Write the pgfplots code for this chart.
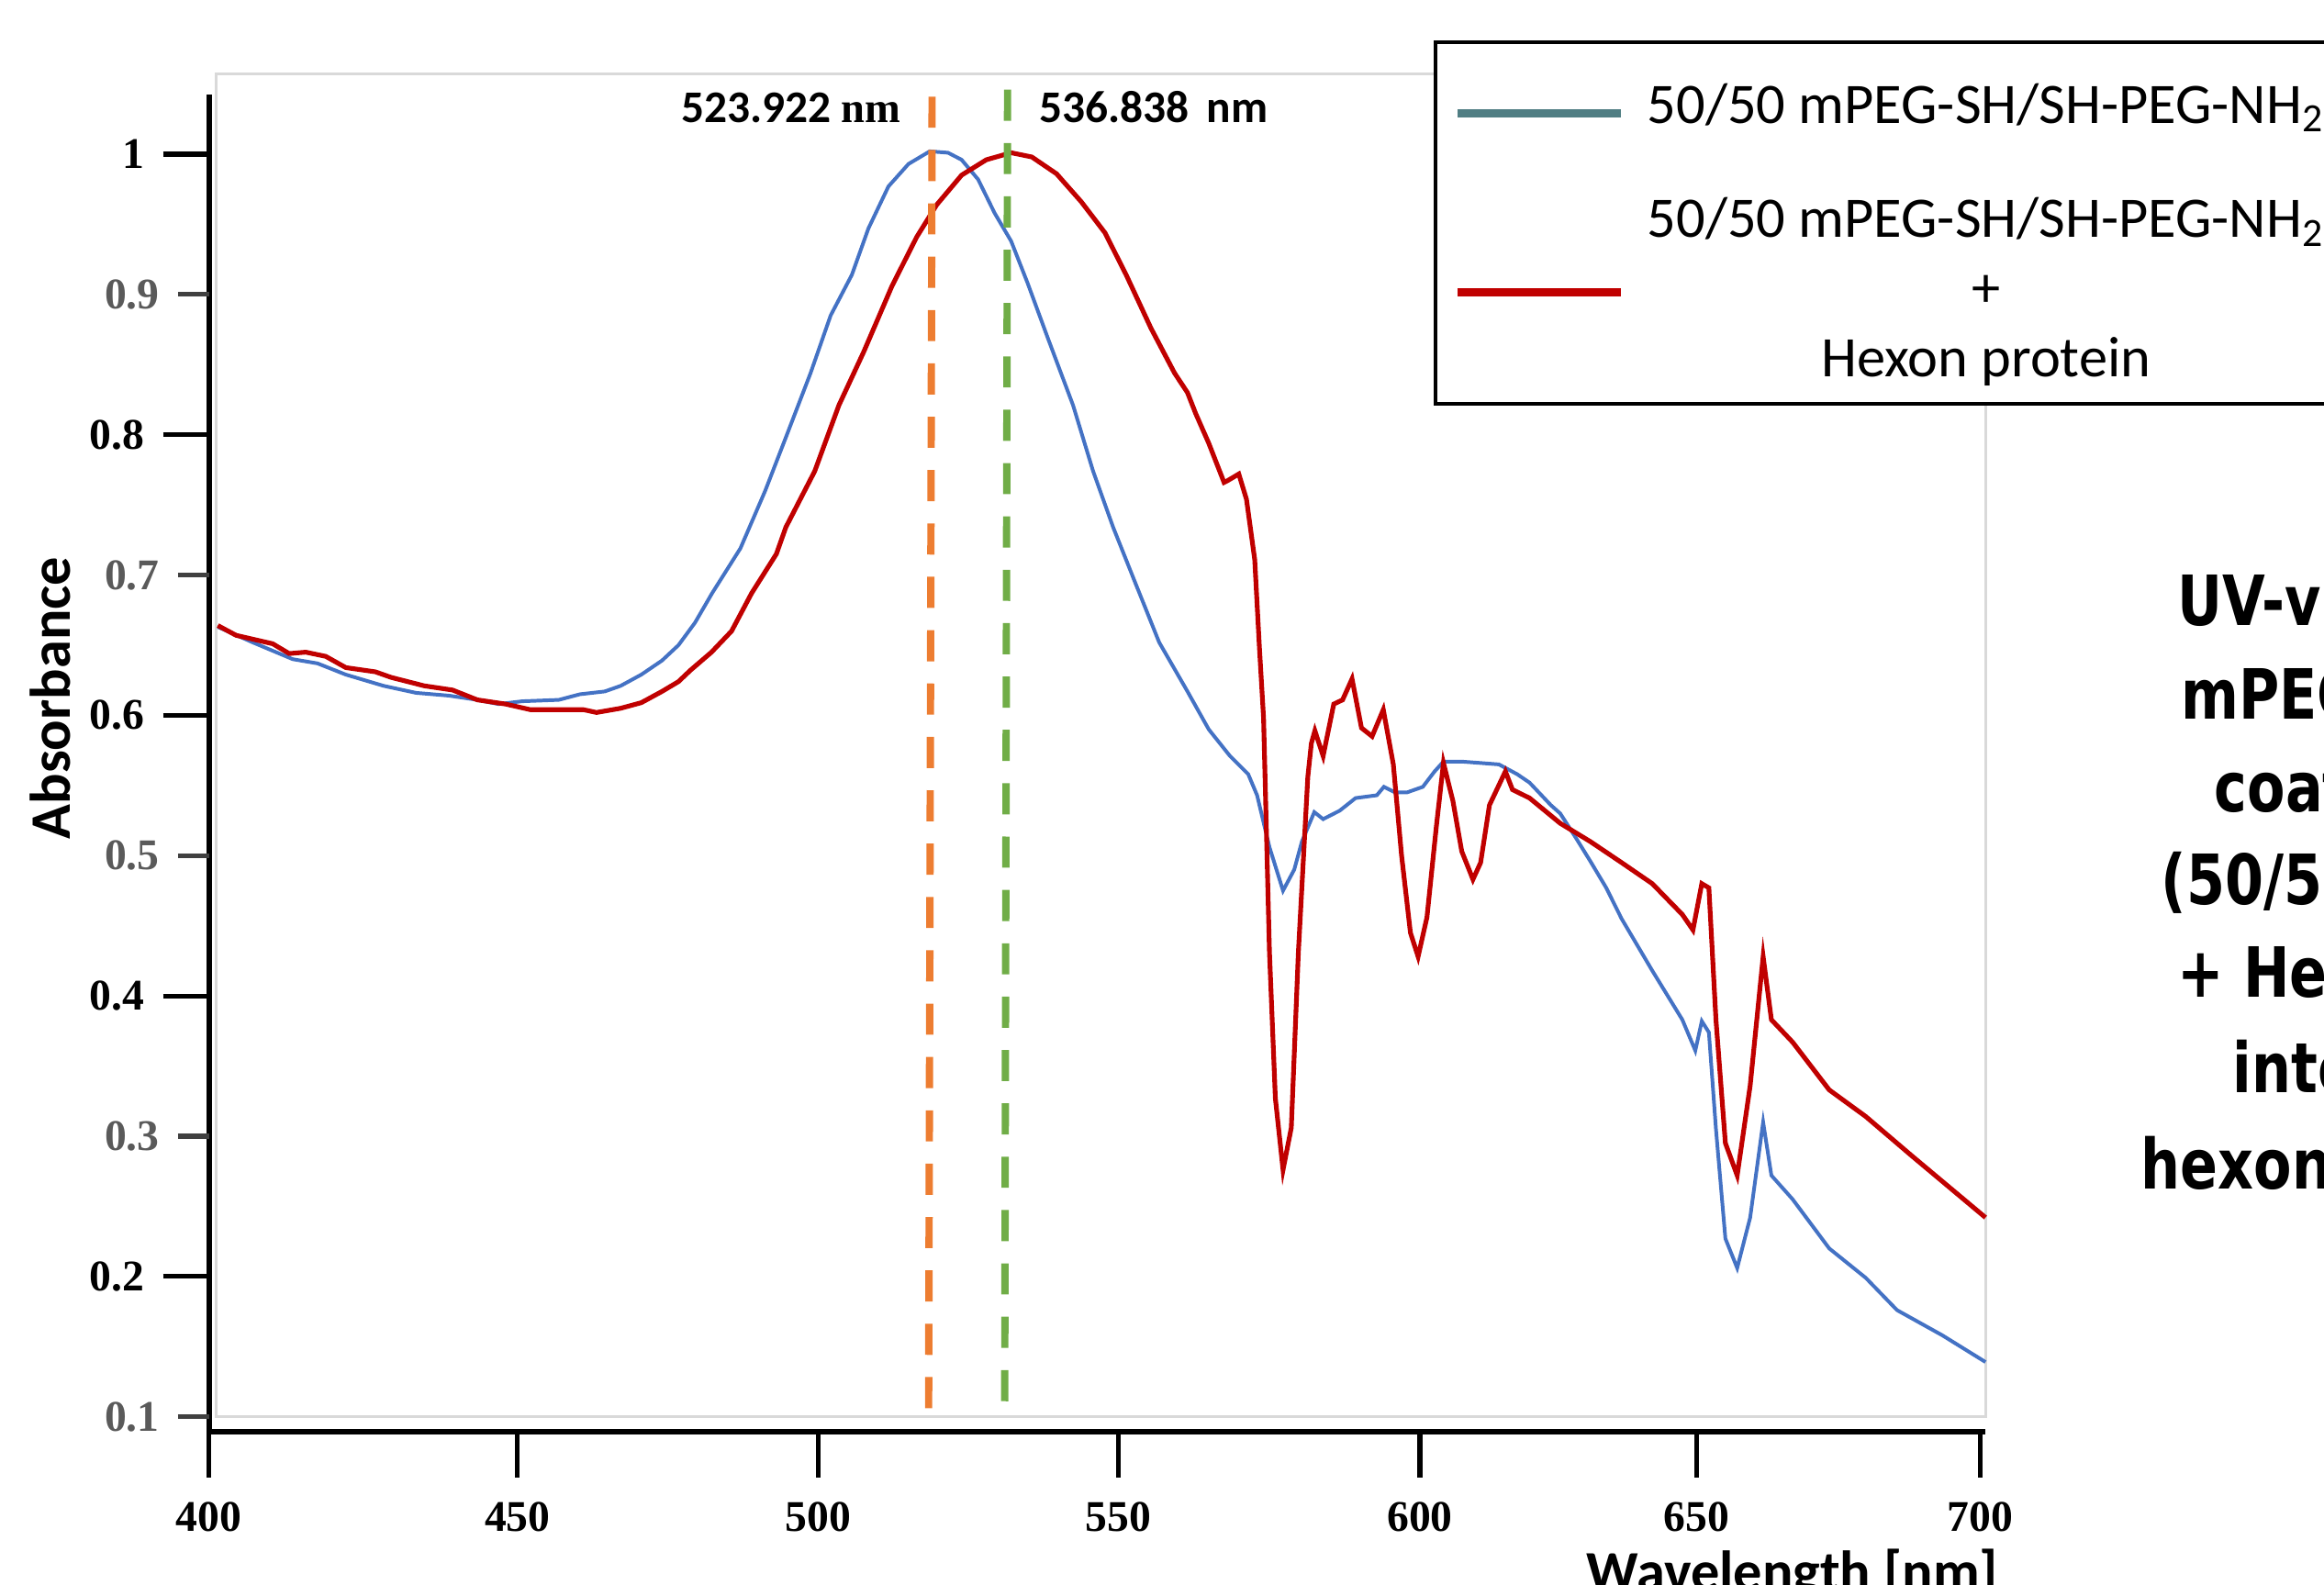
\documentclass[border=0pt]{standalone}
\usepackage{pgfplots}
\pgfplotsset{compat=1.18}
\usepackage{graphicx}
\usepackage{fontspec}
\setmainfont{Carlito}
\newfontfamily\calib{Carlito}
\newfontfamily\tnr{Liberation Serif}
\newfontfamily\dvs{DejaVu Sans}
\definecolor{cblue}{RGB}{68,114,196}
\definecolor{cred}{RGB}{192,0,0}
\definecolor{legteal}{RGB}{80,126,131}
\definecolor{corange}{RGB}{237,125,49}
\definecolor{cgreen}{RGB}{112,173,71}
\definecolor{tgray}{RGB}{90,90,90}
\newcommand\ticfont{\tnr\bfseries\fontsize{8.4}{10}\selectfont}
\newcommand\legfont{\calib\fontsize{11}{13.4}\selectfont}
\newcommand\rt[1]{\scalebox{0.8}[1]{\dvs\bfseries\fontsize{13.3}{16}\selectfont #1}}
\begin{document}
\begin{tikzpicture}
\useasboundingbox (0,0) rectangle (15.68,10.69);
\clip (0,0) rectangle (15.68,10.69);
\draw[gray!30, line width=0.5pt] (1.46,1.13) rectangle (13.40,10.19);
\begin{axis}[
  at={(1.41cm,1.03cm)}, anchor=south west,
  scale only axis, width=11.982cm, height=9.02cm,
  xmin=398.7, xmax=699.8, ymin=0.0894, ymax=1.0423,
  axis lines*=left, axis line style={line width=1pt, black},
  clip=false,
  tick align=outside, major tick length=3.1mm,
  tick style={line width=0.9pt, black},
  xtick={398.7,451.0,502.0,552.9,604.0,650.9,699.0},
  xticklabels={400,450,500,550,600,650,700},
  ytick={0.2,0.4,0.6,0.8,1}, yticklabels={0.2,0.4,0.6,0.8,1},
  extra y ticks={0.1,0.3,0.5,0.7,0.9},
  extra y tick labels={0.1,0.3,0.5,0.7,0.9},
  extra y tick style={major tick length=2.1mm, tick style={line width=0.9pt, color=darkgray}, yticklabel style={text=tgray}},
  ticklabel style={font=\ticfont},
  xticklabel style={yshift=-0.4mm},
  ylabel={Absorbance},
  ylabel style={font=\calib\bfseries\fontsize{11}{13}\selectfont, at={(axis description cs:-0.0893,0.5488)}, anchor=center},
  xlabel={Wavelength [nm]},
  xlabel style={font=\calib\bfseries\fontsize{11}{13}\selectfont, at={(axis description cs:0.7753,-0.1194)}, anchor=base west, inner sep=0pt},
  legend style={at={(axis description cs:0.6894,1.0410)}, anchor=north west,
    draw=black, line width=0.8pt, fill=white,
    inner xsep=1.2mm, inner ysep=0.4mm, row sep=3.0mm, column sep=1.5mm,
    nodes={inner sep=0pt, text depth=}, cells={anchor=base west},
    font=\legfont},
]
% blue: 50/50 mPEG-SH/SH-PEG-NH2
\addplot[color=cblue, line width=0.7pt, forget plot] coordinates {
(400.2,0.663)(406.1,0.652)(412.9,0.640)(417.1,0.637)(421.9,0.629)(428.3,0.621)
(433.8,0.616)(439.4,0.614)(444.2,0.611)(447.8,0.608)(451.8,0.610)(458.0,0.611)
(461.6,0.615)(465.8,0.617)(468.5,0.621)(472.0,0.629)(475.5,0.639)(478.3,0.650)
(481.1,0.666)(484.0,0.687)(486.7,0.705)(488.8,0.719)(493.0,0.760)(496.5,0.798)
(500.7,0.844)(504.1,0.885)(507.7,0.914)(510.5,0.947)(513.9,0.977)(517.3,0.993)
(520.9,1.002)(524.0,1.001)(526.3,0.996)(529.1,0.982)(531.9,0.958)(534.7,0.938)
(537.5,0.908)(541.0,0.868)(545.2,0.821)(548.6,0.774)(552.0,0.734)(555.6,0.696)
(559.8,0.652)(564.6,0.617)(568.2,0.590)(571.8,0.571)(574.9,0.558)(576.4,0.543)
(578.5,0.506)(580.8,0.475)(582.7,0.490)(584.0,0.510)(586.1,0.531)(587.6,0.526)
(590.4,0.532)(593.1,0.541)(596.7,0.543)(597.9,0.549)(599.8,0.545)(601.8,0.545)
(604.5,0.549)(606.5,0.560)(608.0,0.567)(611.1,0.567)(614.3,0.566)(617.4,0.565)
(620.5,0.558)(622.6,0.552)(626.2,0.536)(627.8,0.530)(630.4,0.513)(632.9,0.496)
(635.6,0.477)(638.2,0.455)(643.4,0.418)(648.5,0.383)(650.7,0.361)(651.8,0.382)
(653.0,0.374)(654.2,0.305)(655.8,0.227)(657.8,0.206)(660.0,0.242)(662.2,0.310)
(663.6,0.272)(667.2,0.255)(673.4,0.220)(679.6,0.199)(684.9,0.176)(692.6,0.158)
(699.9,0.139)};
% red: + Hexon protein
\addplot[color=cred, line width=0.9pt, forget plot] coordinates {
(400.2,0.664)(403.3,0.657)(409.5,0.651)(412.3,0.644)(415.1,0.645)(418.5,0.642)
(421.9,0.634)(426.9,0.631)(429.6,0.627)(435.2,0.621)(440.0,0.618)(444.2,0.611)
(449.0,0.608)(453.2,0.604)(458.0,0.604)(462.2,0.604)(464.4,0.602)(468.5,0.605)
(472.0,0.609)(475.5,0.617)(478.3,0.624)(480.3,0.632)(483.9,0.645)(487.3,0.660)
(490.7,0.687)(494.9,0.715)(496.5,0.734)(501.4,0.774)(505.5,0.821)(509.7,0.859)
(514.5,0.906)(518.7,0.941)(522.1,0.964)(526.3,0.985)(530.5,0.996)(534.7,1.001)
(538.2,0.998)(542.4,0.986)(546.6,0.966)(550.6,0.944)(554.2,0.914)(558.4,0.876)
(562.4,0.844)(564.6,0.830)(566.0,0.815)(568.2,0.794)(570.8,0.766)(571.3,0.767)
(573.3,0.772)(574.6,0.754)(576.0,0.711)(576.8,0.648)(577.5,0.598)(578.5,0.431)
(579.5,0.327)(580.8,0.276)(582.2,0.306)(583.4,0.431)(585.0,0.556)(585.6,0.580)
(586.2,0.589)(587.6,0.571)(589.4,0.608)(590.9,0.611)(592.5,0.626)(594.1,0.591)
(595.9,0.585)(597.8,0.604)(599.5,0.565)(600.9,0.500)(602.4,0.445)(603.7,0.428)
(605.2,0.456)(606.8,0.521)(608.0,0.566)(609.6,0.539)(611.1,0.503)(613.0,0.483)
(614.3,0.495)(615.8,0.536)(618.5,0.560)(619.7,0.547)(622.6,0.541)(627.8,0.523)
(632.9,0.510)(638.2,0.495)(643.4,0.480)(648.5,0.458)(650.3,0.447)(651.8,0.480)
(653.0,0.477)(654.2,0.383)(655.8,0.295)(657.8,0.272)(660.0,0.336)(662.2,0.428)
(663.6,0.383)(667.2,0.367)(673.4,0.333)(679.6,0.314)(687.4,0.286)(699.9,0.242)};
% peak markers
\addplot[color=corange, line width=1.4pt, dash pattern=on 2.1mm off 1.5mm, forget plot] coordinates {(521.3,1.041)(520.7,0.091)};
\addplot[color=cgreen, line width=1.4pt, dash pattern=on 2.1mm off 1.5mm, forget plot] coordinates {(534.1,1.046)(533.6,0.0955)};
\addlegendimage{legend image code/.code={\draw[line width=1.7pt, color=legteal] (0cm,0.67mm) -- (1.1cm,0.67mm);}}
\addlegendentry{\rule[-1.42mm]{0pt}{6.49mm}50/50 mPEG-SH/SH-PEG-NH\textsubscript{2}}
\addlegendimage{legend image code/.code={\draw[line width=1.7pt, color=cred] (0cm,-3.7mm) -- (1.1cm,-3.7mm);}}
\addlegendentry{\begin{tabular}[t]{@{}c@{}}50/50 mPEG-SH/SH-PEG-NH\textsubscript{2}\\+\\Hexon protein\end{tabular}}
\end{axis}
\node[anchor=base west, inner sep=0pt] at (4.588,9.864) {{\calib\bfseries\fontsize{8.7}{10}\selectfont 523.922 }{\tnr\bfseries\fontsize{8.2}{10}\selectfont nm}};
\node[anchor=base west, inner sep=0pt] at (7.004,9.864) {\calib\bfseries\fontsize{8.7}{10}\selectfont 536.838\hspace{1.2mm}nm};
\node[anchor=base west, inner sep=0pt] at (14.687,6.47) {\rt{UV-vis}};
\node[anchor=base west, inner sep=0pt] at (14.708,5.84) {\rt{mPEG}};
\node[anchor=base west, inner sep=0pt] at (14.935,5.215) {\rt{coat}};
\node[anchor=base west, inner sep=0pt] at (14.573,4.584) {\rt{(50/50}};
\node[anchor=base west, inner sep=0pt] at (14.687,3.96) {\rt{+ Hexo}};
\node[anchor=base west, inner sep=0pt] at (15.059,3.315) {\rt{inter}};
\node[anchor=base west, inner sep=0pt] at (14.44,2.67) {\rt{hexon}};
\end{tikzpicture}
\end{document}
